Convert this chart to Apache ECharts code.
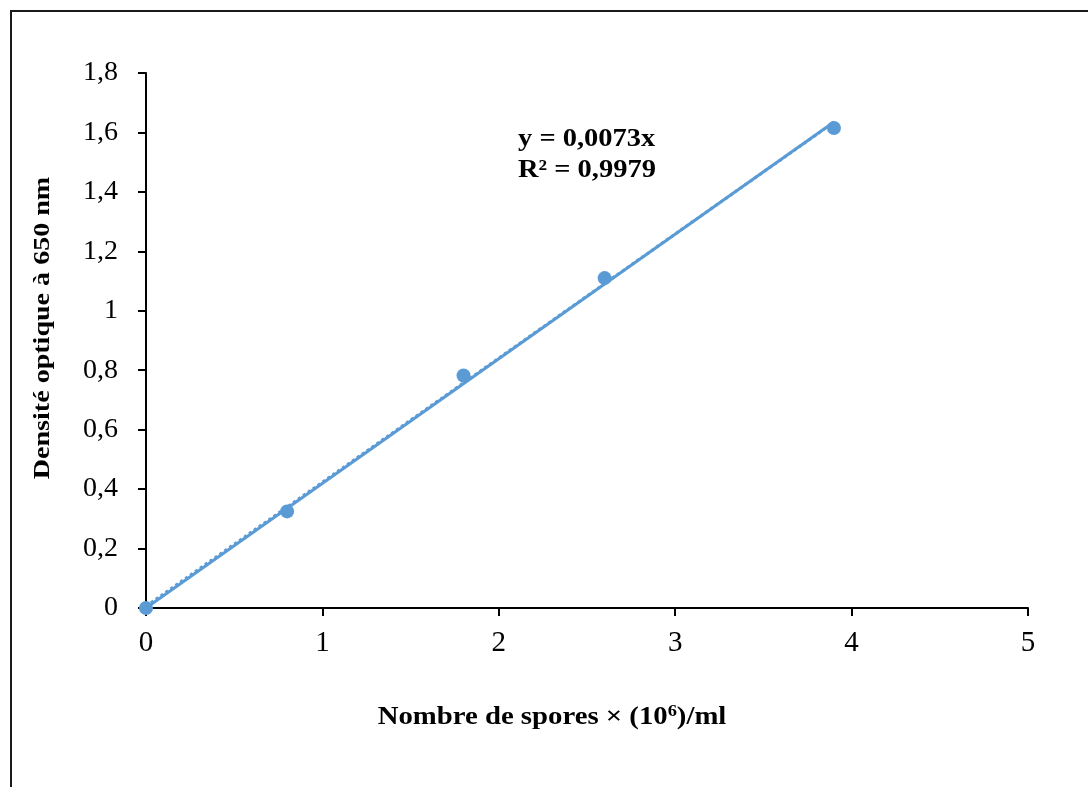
<!DOCTYPE html>
<html>
<head>
<meta charset="utf-8">
<script src="https://cdn.jsdelivr.net/npm/echarts@6/dist/echarts.min.js"></script>
<style>
  html, body { margin: 0; padding: 0; background: #ffffff; }
  #chart { width: 1088px; height: 787px; }
</style>
</head>
<body>
<div id="chart"></div>
<script>
// Measured spore counts (×10^6/ml) and optical density at 650 nm
const spores = [0, 0.8, 1.8, 2.6, 3.9];
const density = [0, 0.325, 0.782, 1.11, 1.615];

// Linear trend lines: solid one forced through the origin, dotted one with free intercept
const trendOrigin = [[0, 0], [3.9, 1.635]];
const trendFree = [[0, 0.006], [3.9, 1.634]];

const equationLines = ['y = 0,0073x', 'R² = 0,9979'];

const xTicks = { min: 0, max: 5, interval: 1 };
const yTicks = { min: 0, max: 1.8, interval: 0.2 };

const blue = '#5B9BD5';
const serif = '"Liberation Serif", "DejaVu Serif", serif';

const chart = echarts.init(document.getElementById('chart'), null, { renderer: 'canvas' });

chart.setOption({
  backgroundColor: '#ffffff',
  animation: false,
  grid: { left: 146, right: 60, top: 73, bottom: 179, containLabel: false },
  xAxis: {
    type: 'value',
    min: xTicks.min, max: xTicks.max, interval: xTicks.interval,
    splitLine: { show: false },
    axisLine: { show: true, onZero: false, lineStyle: { color: '#000', width: 2 } },
    axisTick: { show: true, length: 8, lineStyle: { color: '#000', width: 2 } },
    axisLabel: { color: '#000', fontFamily: serif, fontSize: 29, margin: 21 }
  },
  yAxis: {
    type: 'value',
    min: yTicks.min, max: yTicks.max, interval: yTicks.interval,
    splitLine: { show: false },
    axisLine: { show: true, lineStyle: { color: '#000', width: 2 } },
    axisTick: { show: true, length: 8, lineStyle: { color: '#000', width: 2 } },
    axisLabel: {
      color: '#000', fontFamily: serif, fontSize: 28, margin: 28,
      formatter: v => String(Math.round(v * 10) / 10).replace('.', ',')
    }
  },
  graphic: [
    {
      type: 'rect', silent: true, z: -1,
      shape: { x: 11, y: 11, width: 1100, height: 800 },
      style: { fill: 'none', stroke: '#1a1a1a', lineWidth: 2 }
    },
    {
      // y axis title
      type: 'text', silent: true,
      x: 43, y: 328, rotation: Math.PI / 2, scaleX: 1.22,
      style: {
        text: 'Densité optique à 650 nm',
        fontFamily: serif, fontSize: 23, fontWeight: 'bold', fill: '#000',
        align: 'center', verticalAlign: 'middle'
      }
    },
    {
      // x axis title with superscript exponent
      type: 'text', silent: true,
      x: 552, y: 718, scaleX: 1.15,
      style: {
        text: '{t|Nombre de spores × (10}{s|6}{t|)/ml}',
        align: 'center', verticalAlign: 'middle',
        rich: {
          t: { fontFamily: serif, fontSize: 25, fontWeight: 'bold', fill: '#000', lineHeight: 28 },
          s: { fontFamily: serif, fontSize: 16, fontWeight: 'bold', fill: '#000', lineHeight: 28, padding: [0, 0, 12, 0] }
        }
      }
    },
    {
      // regression equation
      type: 'text', silent: true,
      x: 518, y: 124, scaleX: 1.14,
      style: {
        text: equationLines.join('\n'),
        fontFamily: serif, fontSize: 25, fontWeight: 'bold', fill: '#000',
        lineHeight: 31, align: 'left', verticalAlign: 'top'
      }
    }
  ],
  series: [
    {
      name: 'Tendance (intercept libre)',
      type: 'line',
      data: trendFree,
      symbol: 'none',
      lineStyle: { color: blue, width: 3, type: 'dotted' },
      z: 1
    },
    {
      name: 'Tendance linéaire',
      type: 'line',
      data: trendOrigin,
      symbol: 'none',
      lineStyle: { color: blue, width: 3 },
      z: 2
    },
    {
      name: 'Densité optique',
      type: 'scatter',
      data: spores.map((x, i) => [x, density[i]]),
      symbol: 'circle',
      symbolSize: 14,
      itemStyle: { color: blue, opacity: 1 },
      z: 3
    }
  ]
});
</script>
</body>
</html>
